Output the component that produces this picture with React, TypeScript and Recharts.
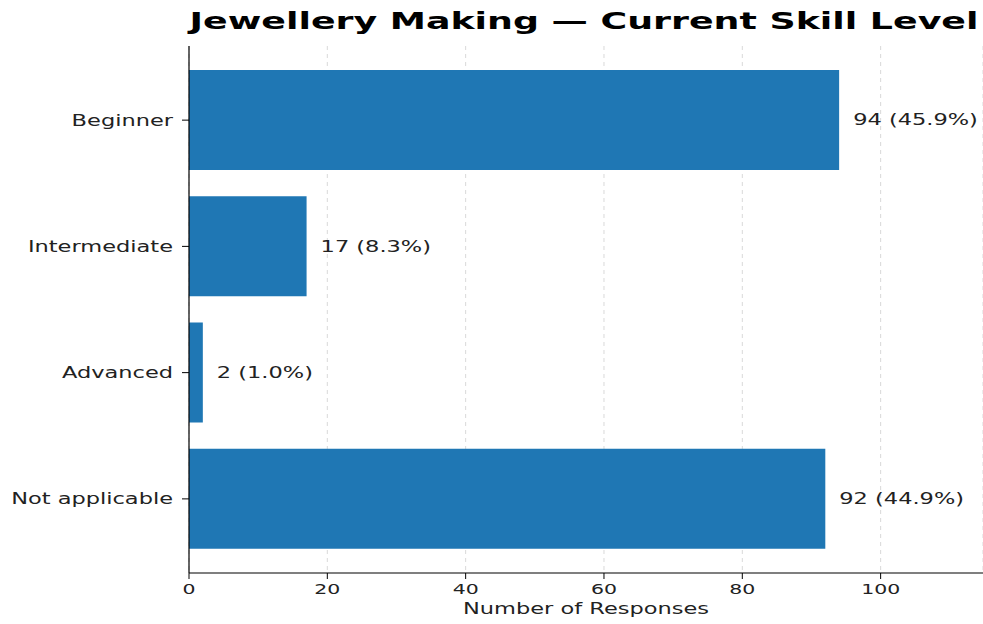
import React from "react";
import { BarChart, Bar, XAxis, YAxis, CartesianGrid, LabelList } from "recharts";

const categories = ["Beginner", "Intermediate", "Advanced", "Not applicable"];
const counts = [94, 17, 2, 92];
const xTicks = [0, 20, 40, 60, 80, 100];
const title = "Jewellery Making \u2014 Current Skill Level";
const xLabel = "Number of Responses";

const total = counts.reduce((a, b) => a + b, 0);
const data = categories.map((c, i) => ({
  category: c,
  count: counts[i],
  label: `${counts[i]} (${((counts[i] / total) * 100).toFixed(1)}%)`,
}));

const FONT = "DejaVu Sans";
const SX = 1.5;

const XTick = (props: any) => {
  const { x, y, payload } = props;
  return (
    <g transform={`translate(${x},${y})`}>
      <text
        transform={`scale(1.41,1)`}
        textAnchor="middle"
        dy="0.72em"
        fontFamily={FONT}
        fontSize={14.5}
        fill="#222"
      >
        {payload.value}
      </text>
    </g>
  );
};

const YTick = (props: any) => {
  const { x, y, payload } = props;
  return (
    <g transform={`translate(${x},${y})`}>
      <text
        transform={`scale(${SX},1)`}
        textAnchor="end"
        dy="0.36em"
        fontFamily={FONT}
        fontSize={15}
        fill="#222"
      >
        {payload.value}
      </text>
    </g>
  );
};

const BarLabel = (props: any) => {
  const { x, y, width, height, value } = props;
  const lx = Number(x) + Number(width) + 14;
  const ly = Number(y) + Number(height) / 2;
  return (
    <g transform={`translate(${lx},${ly})`}>
      <text
        transform={`scale(${SX},1)`}
        textAnchor="start"
        dy="0.36em"
        fontFamily={FONT}
        fontSize={15}
        fill="#222"
      >
        {value}
      </text>
    </g>
  );
};

const XAxisLabel = (props: any) => {
  const { viewBox } = props;
  const cx = viewBox.x + viewBox.width / 2;
  return (
    <g transform={`translate(${cx},${614})`}>
      <text
        transform={`scale(${SX},1)`}
        textAnchor="middle"
        fontFamily={FONT}
        fontSize={15}
        fill="#222"
      >
        {xLabel}
      </text>
    </g>
  );
};

export default function App() {
  return (
    <div style={{ position: "absolute", left: 0, top: 0, width: 983, height: 624, background: "#fff" }}>
      <svg width={983} height={46} style={{ position: "absolute", left: 0, top: 0 }}>
        <g transform="translate(584,29)">
          <text
            transform={`scale(1.58,1)`}
            textAnchor="middle"
            fontFamily={FONT}
            fontWeight="bold"
            fontSize={23}
            fill="#000"
          >
            {title}
          </text>
        </g>
      </svg>
      <BarChart
        width={983}
        height={624}
        data={data}
        layout="vertical"
        margin={{ top: 46, right: 0, bottom: 0, left: 0 }}
        barCategoryGap="10.3%"
      >
        <CartesianGrid horizontal={false} strokeDasharray="4 4" stroke="#d9d9d9" />
        <XAxis
          type="number"
          domain={[0, 114.8]}
          ticks={xTicks}
          height={51}
          axisLine={{ stroke: "#000", strokeWidth: 1.2 }}
          tickLine={{ stroke: "#000" }}
          tickSize={6}
          tickMargin={5}
          tick={<XTick />}
          label={<XAxisLabel />}
          allowDataOverflow
        />
        <YAxis
          type="category"
          dataKey="category"
          width={189}
          padding={{ top: 11, bottom: 11 }}
          axisLine={{ stroke: "#000", strokeWidth: 1.2 }}
          tickLine={{ stroke: "#000" }}
          tickSize={7}
          tickMargin={9}
          tick={<YTick />}
        />
        <Bar dataKey="count" fill="#1f77b4" isAnimationActive={false}>
          <LabelList dataKey="label" content={<BarLabel />} />
        </Bar>
      </BarChart>
    </div>
  );
}
